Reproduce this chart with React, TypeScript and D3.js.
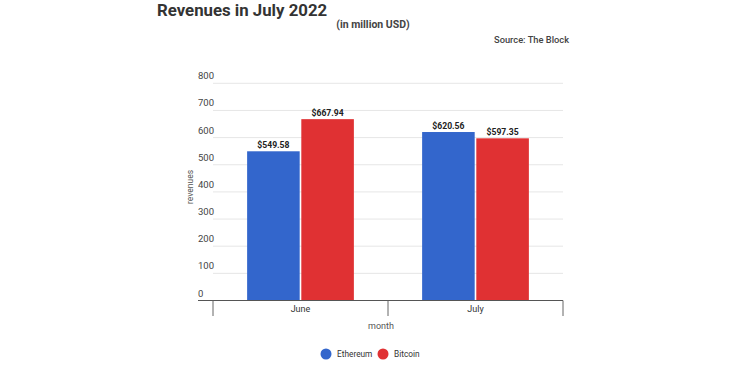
import React from "react";
import * as d3 from "d3";

const months = ["June", "July"];
const seriesNames = ["Ethereum", "Bitcoin"];
const ethereum = [549.58, 620.56];
const bitcoin = [667.94, 597.35];
const yTicks = [0, 100, 200, 300, 400, 500, 600, 700, 800];
const colors = ["#3366cc", "#e03133"];

export default function App() {
  const W = 750, H = 375;
  const left = 213, right = 563, top = 83.3, bottom = 300.5;
  const x0 = d3.scaleBand<string>().domain(months).range([left, right]).paddingInner(0.39).paddingOuter(0.195);
  const x1 = d3.scaleBand<string>().domain(seriesNames).range([0, x0.bandwidth()]).paddingInner(0.03);
  const y = d3.scaleLinear().domain([0, 800]).range([bottom, top]);
  const values = [ethereum, bitcoin];
  const font = "Roboto, sans-serif";
  const bounds = [left, (left + right) / 2, right];
  return (
    <svg width={W} height={H} style={{ position: "absolute", left: 0, top: 0, fontFamily: font }}>
      <rect width={W} height={H} fill="#fff" />
      <text x={157} y={16} fontSize={16.8} fontWeight={700} fill="#333">Revenues in July 2022</text>
      <text x={373} y={28} fontSize={10.5} fontWeight={700} fill="#444" textAnchor="middle">(in million USD)</text>
      <text x={569} y={43} fontSize={9.3} fontWeight={500} fill="#444" textAnchor="end">Source: The Block</text>
      {yTicks.map((t) => (
        <g key={t}>
          {t > 0 && <line x1={left} x2={right} y1={y(t)} y2={y(t)} stroke="#e6e6e6" strokeWidth={1} />}
          <text x={198} y={y(t) - 4} fontSize={9.5} fill="#444">{t}</text>
        </g>
      ))}
      {months.map((m, i) =>
        seriesNames.map((s, j) => {
          const v = values[j][i];
          const bx = (x0(m) as number) + (x1(s) as number);
          return (
            <g key={m + s}>
              <rect x={bx} y={y(v)} width={x1.bandwidth()} height={bottom - y(v)} fill={colors[j]} />
              <text x={bx + x1.bandwidth() / 2} y={y(v) - 3} fontSize={8.6} fontWeight={700} fill="#222" textAnchor="middle">
                ${v.toFixed(2)}
              </text>
            </g>
          );
        })
      )}
      <line x1={198} x2={right} y1={bottom} y2={bottom} stroke="#555" strokeWidth={1.2} />
      {bounds.map((b, i) => (
        <line key={i} x1={b} x2={b} y1={bottom} y2={316} stroke="#666" strokeWidth={1} />
      ))}
      {months.map((m) => (
        <text key={m} x={(x0(m) as number) + x0.bandwidth() / 2} y={312} fontSize={9} fill="#333" textAnchor="middle">{m}</text>
      ))}
      <text x={381} y={329} fontSize={9} fill="#555" textAnchor="middle">month</text>
      <text transform={`translate(193,187) rotate(-90)`} fontSize={8.5} fill="#555" textAnchor="middle">revenues</text>
      {seriesNames.map((s, j) => {
        const cx = j === 0 ? 326 : 383;
        return (
          <g key={s}>
            <circle cx={cx} cy={354} r={5.5} fill={colors[j]} />
            <text x={cx + 11} y={357} fontSize={8.3} fill="#333">{s}</text>
          </g>
        );
      })}
    </svg>
  );
}
